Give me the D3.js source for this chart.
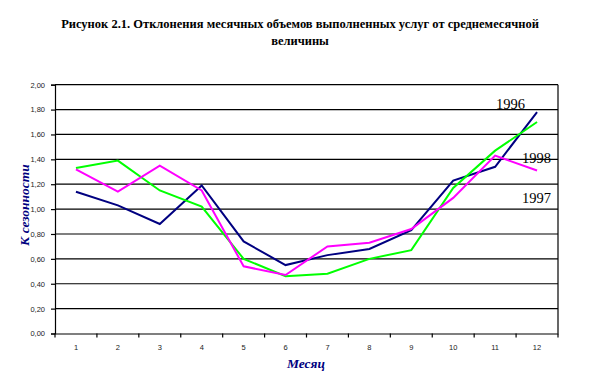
<!DOCTYPE html>
<html><head><meta charset="utf-8">
<script src="https://cdn.jsdelivr.net/npm/d3@7"></script>
<style>body{margin:0;background:#fff}</style>
</head><body>
<svg id="c" width="614" height="383"></svg>
<script>
const months = ["1","2","3","4","5","6","7","8","9","10","11","12"];
const s1996 = [1.14,1.03,0.88,1.19,0.74,0.55,0.63,0.68,0.83,1.23,1.34,1.78];
const s1997 = [1.33,1.39,1.15,1.02,0.60,0.46,0.48,0.60,0.67,1.17,1.47,1.70];
const s1998 = [1.32,1.14,1.35,1.15,0.54,0.47,0.70,0.73,0.84,1.09,1.43,1.31];
const yTicks = [0,0.2,0.4,0.6,0.8,1.0,1.2,1.4,1.6,1.8,2.0];
const seriesNames = ["1996","1997","1998"];
const colors = ["#000080","#00ff00","#ff00ff"];

const svg = d3.select("#c");
const L=55, R=558, T=84.7, B=333.5;
const x = d3.scaleBand().domain(months).range([L,R]);
const y = d3.scaleLinear().domain([0,2]).range([B,T]);
const fmt = v => d3.format(".2f")(v).replace(".",",");

// gridlines
svg.append("g").selectAll("line").data(yTicks.slice(1)).join("line")
  .attr("x1",L).attr("x2",R).attr("y1",d=>y(d)).attr("y2",d=>y(d))
  .attr("stroke","#000").attr("stroke-width",1.2);
// right border
svg.append("line").attr("x1",R).attr("x2",R).attr("y1",T).attr("y2",B).attr("stroke","#000").attr("stroke-width",1.2);

// y axis
const ya = svg.append("g").attr("transform",`translate(${L},0)`)
  .call(d3.axisLeft(y).tickValues(yTicks).tickFormat(fmt).tickSize(4).tickPadding(6));
ya.selectAll("path,line").attr("stroke","#000").attr("stroke-width",1.2);
ya.selectAll("text").attr("font-family","Arial, 'Liberation Sans', sans-serif").attr("font-size",7.5).attr("fill","#222");

// x axis
const xa = svg.append("g").attr("transform",`translate(0,${B})`)
  .call(d3.axisBottom(x).tickSize(0).tickPadding(11));
xa.select("path").attr("stroke","#000").attr("stroke-width",1.2);
xa.selectAll("text").attr("font-family","Arial, 'Liberation Sans', sans-serif").attr("font-size",7.5).attr("fill","#222");
// boundary ticks
const bounds = months.map(m=>x(m)).concat([R]);
svg.append("g").selectAll("line").data(bounds).join("line")
  .attr("x1",d=>d).attr("x2",d=>d).attr("y1",B).attr("y2",B+4)
  .attr("stroke","#000").attr("stroke-width",1.2);

// lines
const line = d3.line().x((d,i)=>x(months[i])+x.bandwidth()/2).y(d=>y(d));
[s1996,s1997,s1998].forEach((s,i)=>{
  svg.append("path").datum(s).attr("d",line).attr("fill","none")
    .attr("stroke",colors[i]).attr("stroke-width",2);
});

// series labels
const labFont = "'Liberation Serif','DejaVu Serif',serif";
[[seriesNames[0],496,109],[seriesNames[2],522,163],[seriesNames[1],522,203]].forEach(([t,xx,yy])=>{
  svg.append("text").attr("x",xx).attr("y",yy).text(t)
    .attr("font-family",labFont).attr("font-size",14.5).attr("fill","#000");
});

// title
svg.append("text").attr("x",300).attr("y",28).attr("text-anchor","middle")
  .attr("font-family",labFont).attr("font-weight","bold").attr("font-size",12.5)
  .text("Рисунок 2.1. Отклонения месячных объемов выполненных услуг от среднемесячной");
svg.append("text").attr("x",300).attr("y",45).attr("text-anchor","middle")
  .attr("font-family",labFont).attr("font-weight","bold").attr("font-size",12.5)
  .text("величины");

// axis titles
svg.append("text").attr("transform","translate(29,205) rotate(-90)").attr("text-anchor","middle")
  .attr("font-family",labFont).attr("font-weight","bold").attr("font-style","italic")
  .attr("font-size",13.5).attr("fill","#000080").text("К сезонности");
svg.append("text").attr("x",306).attr("y",368).attr("text-anchor","middle")
  .attr("font-family",labFont).attr("font-weight","bold").attr("font-style","italic")
  .attr("font-size",13.5).attr("fill","#000080").text("Месяц");
</script>
</body></html>
